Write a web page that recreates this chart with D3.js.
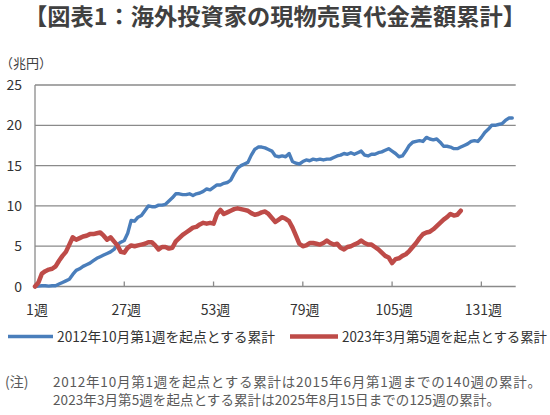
<!DOCTYPE html>
<html>
<head>
<meta charset="utf-8">
<script src="https://cdn.jsdelivr.net/npm/d3@7"></script>
<style>
  body { margin: 0; background: #fff; }
  svg { display: block; font-family: "Noto Sans CJK JP", "Noto Sans", sans-serif; }
</style>
</head>
<body>
<svg id="chart" width="550" height="415"></svg>
<script>
// 2012年10月第1週を起点とする累計 (週1〜140, 兆円)
const blue = [
  0, 0.05, 0.1, 0.1, 0.05, 0.1, 0.1, 0.3, 0.5, 0.7,
  0.9, 1.5, 2.0, 2.2, 2.5, 2.7, 2.9, 3.2, 3.5, 3.7,
  3.9, 4.1, 4.3, 4.6, 5.2, 5.5, 5.7, 6.6, 8.2, 8.1,
  8.6, 8.8, 9.4, 10.0, 9.9, 9.9, 10.1, 10.1, 10.2, 10.6,
  11.0, 11.5, 11.5, 11.4, 11.4, 11.5, 11.3, 11.5, 11.6, 11.8,
  12.1, 12.0, 12.3, 12.6, 12.6, 12.8, 12.9, 13.2, 14.0, 14.7,
  15.0, 15.2, 15.4, 16.3, 17.0, 17.3, 17.3, 17.2, 17.0, 16.8,
  16.2, 16.1, 16.2, 16.1, 16.5, 15.5, 15.3, 15.2, 15.5, 15.7,
  15.6, 15.8, 15.7, 15.8, 15.7, 15.8, 15.8, 16.0, 16.2, 16.3,
  16.5, 16.4, 16.6, 16.4, 16.6, 16.8, 16.3, 16.2, 16.4, 16.4,
  16.6, 16.7, 16.9, 17.1, 16.8, 16.5, 16.1, 16.2, 16.8, 17.5,
  17.9, 18.0, 18.1, 18.0, 18.5, 18.3, 18.2, 18.3, 17.9, 17.4,
  17.4, 17.3, 17.1, 17.1, 17.3, 17.5, 17.7, 18.0, 18.1, 18.0,
  18.5, 19.1, 19.5, 20.0, 20.0, 20.1, 20.2, 20.6, 20.9, 20.9
];
// 2023年3月第5週を起点とする累計 (週1〜125, 兆円)
const red = [
  0, 0.5, 1.6, 1.9, 2.1, 2.2, 2.5, 3.2, 3.8, 4.3,
  5.2, 6.1, 5.8, 6.0, 6.2, 6.3, 6.5, 6.5, 6.6, 6.7,
  6.3, 5.8, 6.1, 5.6, 5.1, 4.3, 4.2, 4.8, 5.1, 5.0,
  5.1, 5.2, 5.3, 5.5, 5.5, 5.1, 4.6, 4.9, 4.9, 4.7,
  4.8, 5.6, 6.0, 6.4, 6.7, 7.0, 7.3, 7.4, 7.7, 7.9,
  7.8, 7.9, 7.8, 9.0, 9.5, 9.0, 9.2, 9.4, 9.6, 9.7,
  9.6, 9.5, 9.4, 9.1, 8.9, 9.0, 9.2, 9.3, 9.0, 8.5,
  8.0, 8.3, 8.6, 8.4, 8.1, 7.3, 6.3, 5.3, 5.0, 5.1,
  5.4, 5.4, 5.3, 5.2, 5.4, 5.7, 5.4, 5.2, 5.3, 4.8,
  4.6, 4.9, 5.0, 5.2, 5.4, 5.7, 5.4, 5.2, 5.2, 4.9,
  4.6, 4.2, 3.8, 3.6, 2.9, 3.4, 3.5, 3.8, 4.0, 4.4,
  4.9, 5.4, 6.0, 6.5, 6.7, 6.8, 7.1, 7.5, 7.9, 8.3,
  8.6, 9.0, 8.8, 8.9, 9.4
];
const xTicks = [1, 27, 53, 79, 105, 131];
const yTicks = [0, 5, 10, 15, 20, 25];
const seriesNames = ["2012年10月第1週を起点とする累計", "2023年3月第5週を起点とする累計"];
const notes = [
  "2012年10月第1週を起点とする累計は2015年6月第1週までの140週の累計。",
  "2023年3月第5週を起点とする累計は2025年8月15日までの125週の累計。"
];

const blueColor = "#4a7ebb";
const redColor = "#be4b48";
const gridColor = "#8a8a8a";

const svg = d3.select("#chart");

const x = d3.scaleLinear().domain([1, 141]).range([35, 515.7]);
const y = d3.scaleLinear().domain([0, 25]).range([286.5, 85]);

// title
svg.append("text")
  .attr("x", 24).attr("y", 25)
  .attr("font-size", 23).attr("font-weight", "bold")
  .attr("fill", "#404040")
  .attr("textLength", 502).attr("lengthAdjust", "spacingAndGlyphs")
  .text("【図表1：海外投資家の現物売買代金差額累計】");

svg.append("text")
  .attr("x", 0).attr("y", 68)
  .attr("font-size", 13).attr("fill", "#404040")
  .text("（兆円）");

// grid lines
svg.append("g")
  .selectAll("line")
  .data(yTicks)
  .join("line")
  .attr("x1", x(1)).attr("x2", x(141))
  .attr("y1", d => y(d)).attr("y2", d => y(d))
  .attr("stroke", gridColor).attr("stroke-width", 1.3);

// left axis line
svg.append("line")
  .attr("x1", x(1)).attr("x2", x(1))
  .attr("y1", y(0)).attr("y2", y(25))
  .attr("stroke", gridColor).attr("stroke-width", 1.3);

// x ticks (inward)
svg.append("g")
  .selectAll("line")
  .data(xTicks.slice(1))
  .join("line")
  .attr("x1", d => x(d)).attr("x2", d => x(d))
  .attr("y1", y(0)).attr("y2", y(0) - 5)
  .attr("stroke", gridColor).attr("stroke-width", 1.3);

svg.append("g")
  .selectAll("text")
  .data(yTicks)
  .join("text")
  .attr("x", 22).attr("y", d => y(d) + 5)
  .attr("text-anchor", "end")
  .attr("font-size", 14).attr("fill", "#333")
  .text(d => d);

svg.append("g")
  .selectAll("text")
  .data(xTicks)
  .join("text")
  .attr("x", d => x(d) + 2).attr("y", 315)
  .attr("text-anchor", "middle")
  .attr("font-size", 14).attr("fill", "#333")
  .text(d => d + "週");

const line = d3.line()
  .x((d, i) => x(i + 1))
  .y(d => y(d));

svg.append("path")
  .datum(blue)
  .attr("d", line)
  .attr("fill", "none")
  .attr("stroke", blueColor).attr("stroke-width", 3.4)
  .attr("stroke-linejoin", "round").attr("stroke-linecap", "round");

svg.append("path")
  .datum(red)
  .attr("d", line)
  .attr("fill", "none")
  .attr("stroke", redColor).attr("stroke-width", 4.5)
  .attr("stroke-linejoin", "round").attr("stroke-linecap", "round");

// legend
const legend = [
  { name: seriesNames[0], color: blueColor, w: 3.5, x0: 8, x1: 53, tx: 57, len: 218 },
  { name: seriesNames[1], color: redColor, w: 4.5, x0: 290, x1: 338, tx: 342, len: 205 }
];
legend.forEach(l => {
  svg.append("line")
    .attr("x1", l.x0).attr("x2", l.x1)
    .attr("y1", 336.5).attr("y2", 336.5)
    .attr("stroke", l.color).attr("stroke-width", l.w);
  svg.append("text")
    .attr("x", l.tx).attr("y", 341.5)
    .attr("font-size", 14).attr("fill", "#333")
    .attr("textLength", l.len).attr("lengthAdjust", "spacingAndGlyphs")
    .text(l.name);
});

// notes
svg.append("text")
  .attr("x", 5).attr("y", 387)
  .attr("font-size", 14).attr("fill", "#595959")
  .text("(注)");
svg.append("text")
  .attr("x", 53).attr("y", 387)
  .attr("font-size", 13.5).attr("fill", "#595959")
  .attr("textLength", 488).attr("lengthAdjust", "spacing")
  .text(notes[0]);
svg.append("text")
  .attr("x", 53).attr("y", 405)
  .attr("font-size", 13.5).attr("fill", "#595959")
  .attr("textLength", 447).attr("lengthAdjust", "spacing")
  .text(notes[1]);
</script>
</body>
</html>
